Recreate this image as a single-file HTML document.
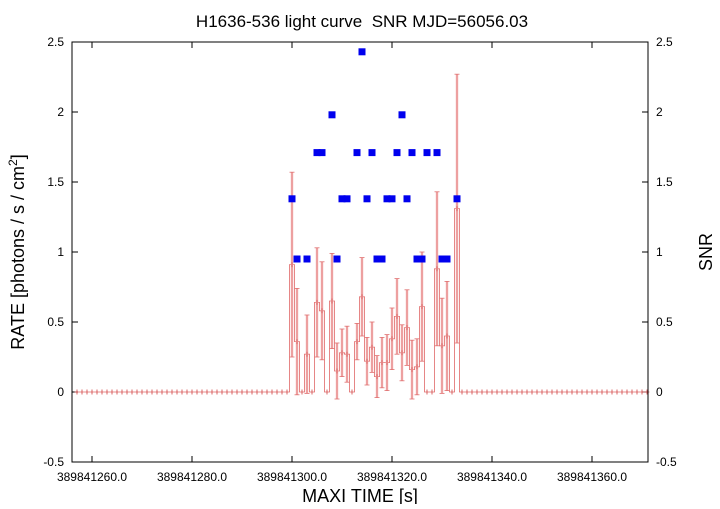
<!DOCTYPE html>
<html><head><meta charset="utf-8"><style>
body{margin:0;background:#fff;}
svg text{font-family:"Liberation Sans",sans-serif;}
</style></head><body>
<svg id="chart" width="720" height="504" xmlns="http://www.w3.org/2000/svg">
<text x="362" y="27" font-size="17" text-anchor="middle">H1636-536 light curve &#160;SNR MJD=56056.03</text>
<text x="360" y="502" font-size="18" text-anchor="middle">MAXI TIME [s]</text>
<text transform="translate(24,252) rotate(-90)" font-size="18" text-anchor="middle">RATE [photons / s / cm<tspan font-size="12" dy="-7">2</tspan><tspan dy="7">]</tspan></text>
<text transform="translate(712,252) rotate(-90)" font-size="18" text-anchor="middle">SNR</text>
<g id="axes"></g>
<g id="rate"></g>
<g id="snr"></g>
<rect x="72" y="42" width="576" height="420" fill="none" stroke="#000" stroke-width="1"/>
</svg>
<script>
const binTimes=[300,301,302,303,304,305,306,307,308,309,310,311,312,313,314,315,316,317,318,319,320,321,322,323,324,325,326,327,328,329,330,331,332,333];
const rateValues=[0.91,0.36,0,0.27,0,0.64,0.58,0,0.65,0.15,0.28,0.27,0,0.36,0.68,0.22,0.32,0.11,0.21,0.21,0.38,0.54,0.28,0.46,0.16,0.18,0.61,0,0,0.88,0.33,0.40,0,1.31];
const rateErrors=[0.66,0.38,0,0.28,0,0.39,0.35,0,0.34,0.2,0.17,0.2,0,0.13,0.28,0.17,0.18,0.15,0.18,0.2,0.22,0.27,0.2,0.27,0.21,0.2,0.39,0,0,0.55,0.34,0.39,0,0.96];
const snrTimes=[300,301,303,305,306,308,309,310,311,313,314,315,316,317,318,319,320,321,322,323,324,325,326,327,329,330,331,333];
const snrValues=[1.38,0.95,0.95,1.71,1.71,1.98,0.95,1.38,1.38,1.71,2.43,1.38,1.71,0.95,0.95,1.38,1.38,1.71,1.98,1.38,1.71,0.95,0.95,1.71,1.71,0.95,0.95,1.38];
const xTicks=[260,280,300,320,340,360];
const xTickLabels=["389841260.0","389841280.0","389841300.0","389841320.0","389841340.0","389841360.0"];
const yTicks=[-0.5,0,0.5,1,1.5,2,2.5];
const yTickLabels=["-0.5","0","0.5","1","1.5","2","2.5"];
const tMin=256,tMax=371.2,tStart=257,tEnd=371;
const NS="http://www.w3.org/2000/svg";
function X(t){return 72+(t-tMin)*576/(tMax-tMin);}
function Y(v){return 392-v*140;}
function mk(tag,attrs,parent){const e=document.createElementNS(NS,tag);for(const k in attrs)e.setAttribute(k,attrs[k]);parent.appendChild(e);return e;}
const axes=document.getElementById('axes'),rate=document.getElementById('rate'),snr=document.getElementById('snr');
xTicks.forEach((t,i)=>{
 const l=mk('line',{x1:X(t),x2:X(t),y1:462,y2:456,stroke:'#000'},axes);
 
 
 const l2=mk('line',{x1:X(t),x2:X(t),y1:42,y2:48,stroke:'#000'},axes);
 
 
 const tx=mk('text',{x:X(t),y:481,'font-size':12,'text-anchor':'middle'},axes);tx.textContent=xTickLabels[i];
 
 
});
yTicks.forEach((v,i)=>{
 const l=mk('line',{x1:72,x2:78,y1:Y(v),y2:Y(v),stroke:'#000'},axes);
 
 
 const l2=mk('line',{x1:642,x2:648,y1:Y(v),y2:Y(v),stroke:'#000'},axes);
 
 
 const a=mk('text',{x:64,y:Y(v)+4,'font-size':12,'text-anchor':'end'},axes);a.textContent=yTickLabels[i];
 
 
 const b=mk('text',{x:656,y:Y(v)+4,'font-size':12},axes);b.textContent=yTickLabels[i];
 
 
});
const allT=[],allV=[],allE=[];
for(let t=tStart;t<=tEnd;t++){const k=binTimes.indexOf(t);allT.push(t);allV.push(k>=0?rateValues[k]:0);allE.push(k>=0?rateErrors[k]:0);}
let d='';
allT.forEach((t,i)=>{const y=Y(allV[i]);d+=(i===0?'M':'L')+X(t-0.5)+','+y+'L'+X(t+0.5)+','+y;});
const step=mk('path',{d:d,fill:'none',stroke:'#e06868','stroke-width':0.8},rate);


allT.forEach((t,i)=>{
 const x=X(t),v=allV[i],e=allE[i];
 const g=mk('g',{},rate);
 
 
 if(e>0){
  mk('line',{x1:x,x2:x,y1:Y(v+e),y2:Y(v-e),stroke:'#f6c0c0','stroke-width':2.5},g);
  mk('line',{x1:x,x2:x,y1:Y(v+e),y2:Y(v-e),stroke:'#e07070','stroke-width':0.8},g);
  mk('line',{x1:x-2.5,x2:x+2.5,y1:Y(v+e),y2:Y(v+e),stroke:'#e07070','stroke-width':0.8},g);
  mk('line',{x1:x-2.5,x2:x+2.5,y1:Y(v-e),y2:Y(v-e),stroke:'#e07070','stroke-width':0.8},g);
 }
 mk('line',{x1:x,x2:x,y1:Y(v)-2.5,y2:Y(v)+2.5,stroke:'#d04040','stroke-width':0.8},g);
});
snrTimes.forEach((t,i)=>{
 const r=mk('rect',{x:X(t)-3.5,y:Y(snrValues[i])-3.5,width:7,height:7,fill:'#0000ee'},snr);
 
 
});
</script>
</body></html>
